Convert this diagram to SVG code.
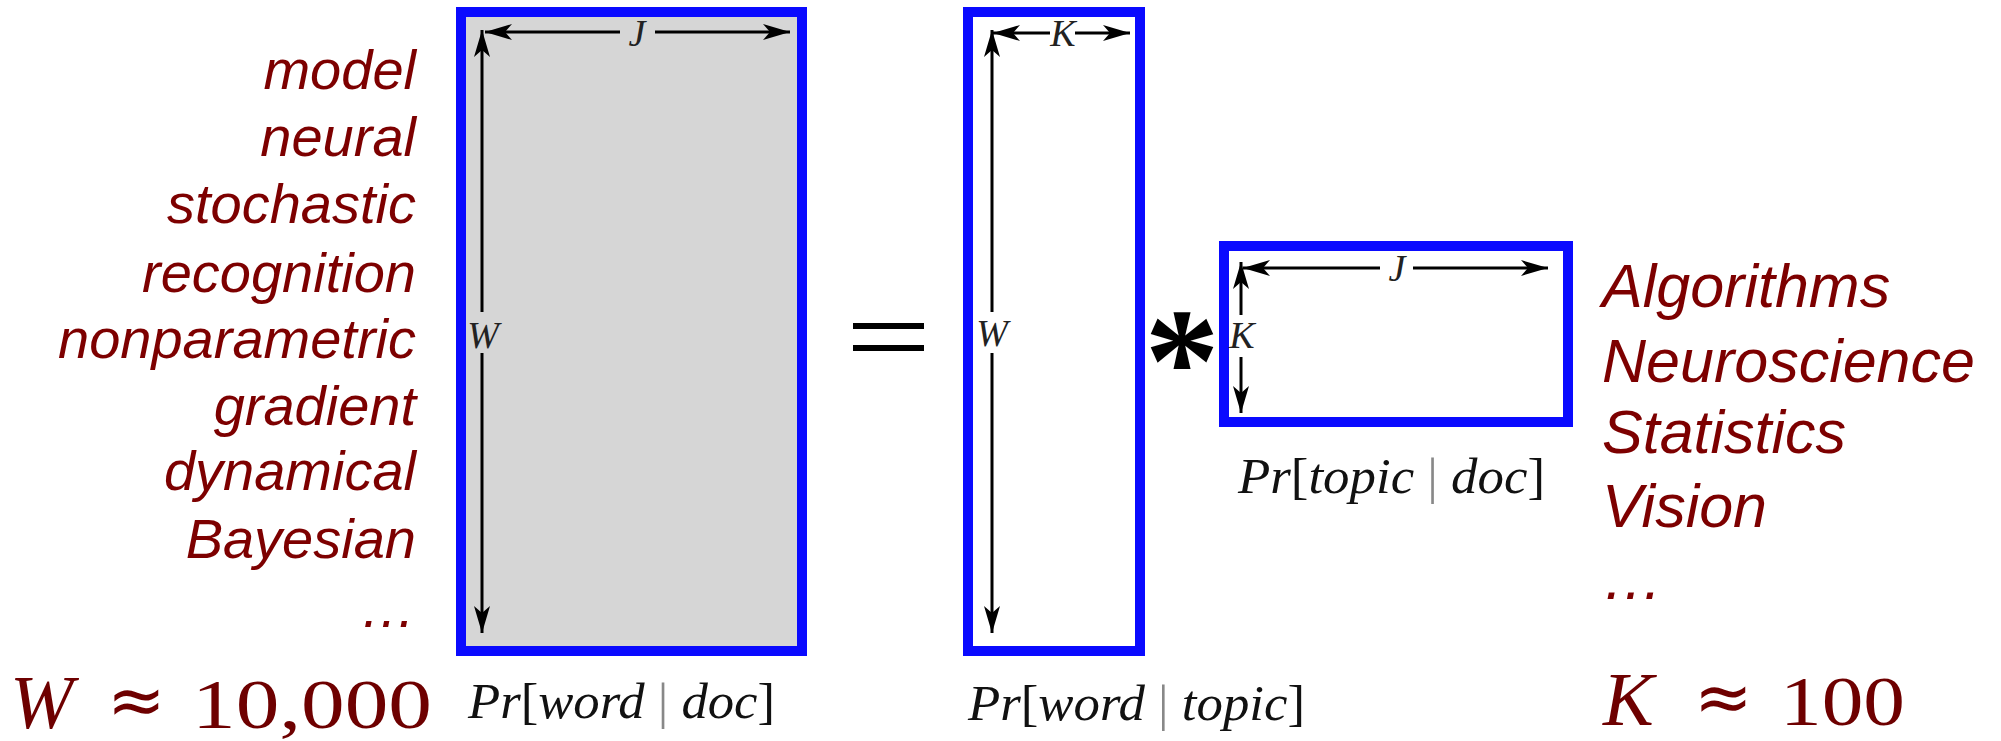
<svg xmlns="http://www.w3.org/2000/svg" width="2001" height="741" viewBox="0 0 2001 741">
<defs>
<marker id="ah" markerUnits="userSpaceOnUse" markerWidth="30" markerHeight="20" viewBox="-28 -9 30 18" refX="0" refY="0" orient="auto">
<path d="M0,0 L-27,-8 L-20,0 L-27,8 Z" fill="#000"/>
</marker>
<style>
.box{stroke:#0a0aff;stroke-width:10;}
.arr{stroke:#000;stroke-width:3;fill:none;marker-end:url(#ah);}
.dim{font-family:"Liberation Serif",serif;font-style:italic;font-size:38px;fill:#222;text-anchor:middle;}
.word{font-family:"Liberation Sans",Arial,sans-serif;font-style:italic;font-size:56px;fill:#7d0000;text-anchor:end;}
.topic{font-family:"Liberation Sans",Arial,sans-serif;font-style:italic;font-size:61px;fill:#7d0000;}
.math{font-family:"Liberation Serif",serif;font-size:70px;fill:#6e0000;}
.mv{font-style:italic;font-size:76px;}
.ap{font-family:"DejaVu Sans",sans-serif;font-size:70px;}
.pr{font-family:"Liberation Serif",serif;font-size:50px;fill:#111;}
.it{font-style:italic;}
.bar{fill:#888;}
</style>
</defs>

<g id="words">
<text class="word" x="416" y="89">model</text>
<text class="word" x="416" y="156">neural</text>
<text class="word" x="416" y="223">stochastic</text>
<text class="word" x="416" y="292">recognition</text>
<text class="word" x="416" y="358">nonparametric</text>
<text class="word" x="416" y="425">gradient</text>
<text class="word" x="416" y="490">dynamical</text>
<text class="word" x="416" y="558">Bayesian</text>
<text class="word" x="416" y="627">…</text>
</g>

<g id="W-count">
<text class="math mv" x="10" y="728">W</text>
<text class="math ap" x="107" y="724">≈</text>
<text class="math" x="192" y="728" textLength="240" lengthAdjust="spacingAndGlyphs">10,000</text>
</g>

<g id="matrix-word-doc">
<rect class="box" x="461" y="12" width="341" height="639" fill="#d6d6d6"/>
<text class="dim" x="637" y="46">J</text>
<text class="dim" x="483" y="348">W</text>
<text class="pr" x="468" y="718" textLength="307" lengthAdjust="spacingAndGlyphs"><tspan class="it">Pr</tspan>[<tspan class="it">word</tspan> <tspan class="bar">|</tspan> <tspan class="it">doc</tspan>]</text>
</g>

<g id="equals">
<rect x="853" y="323" width="71" height="6" fill="#000"/>
<rect x="853" y="345" width="71" height="6" fill="#000"/>
</g>

<g id="matrix-word-topic">
<rect class="box" x="968" y="12" width="172" height="639" fill="#fff"/>
<text class="dim" x="1063" y="46">K</text>
<text class="dim" x="992" y="346">W</text>
<text class="pr" x="968" y="720" textLength="337" lengthAdjust="spacingAndGlyphs"><tspan class="it">Pr</tspan>[<tspan class="it">word</tspan> <tspan class="bar">|</tspan> <tspan class="it">topic</tspan>]</text>
</g>

<g id="times">
<text x="1182" y="412" font-family="Liberation Serif, serif" font-size="150" font-weight="bold" text-anchor="middle" fill="#000">*</text>
</g>

<g id="matrix-topic-doc">
<rect class="box" x="1224" y="246" width="344" height="176" fill="#fff"/>
<text class="dim" x="1397" y="281">J</text>
<text class="dim" x="1242" y="348">K</text>
<text class="pr" x="1238" y="493" textLength="307" lengthAdjust="spacingAndGlyphs"><tspan class="it">Pr</tspan>[<tspan class="it">topic</tspan> <tspan class="bar">|</tspan> <tspan class="it">doc</tspan>]</text>
</g>

<g id="topics">
<text class="topic" x="1602" y="307">Algorithms</text>
<text class="topic" x="1602" y="382">Neuroscience</text>
<text class="topic" x="1602" y="453">Statistics</text>
<text class="topic" x="1602" y="527">Vision</text>
<text class="topic" x="1602" y="599">…</text>
</g>

<g id="K-count">
<text class="math mv" x="1603" y="725">K</text>
<text class="math ap" x="1694" y="721">≈</text>
<text class="math" x="1780" y="725" textLength="125" lengthAdjust="spacingAndGlyphs">100</text>
</g>

<g id="connectors">
<path class="arr" d="M620,32 H485"/>
<path class="arr" d="M655,32 H790"/>
<path class="arr" d="M482,312 V30"/>
<path class="arr" d="M482,353 V633"/>
<path class="arr" d="M1050,33 H993"/>
<path class="arr" d="M1075,33 H1130"/>
<path class="arr" d="M992,312 V30"/>
<path class="arr" d="M992,353 V633"/>
<path class="arr" d="M1380,268 H1243"/>
<path class="arr" d="M1413,268 H1548"/>
<path class="arr" d="M1241,315 V262"/>
<path class="arr" d="M1241,357 V413"/>
</g>
</svg>
